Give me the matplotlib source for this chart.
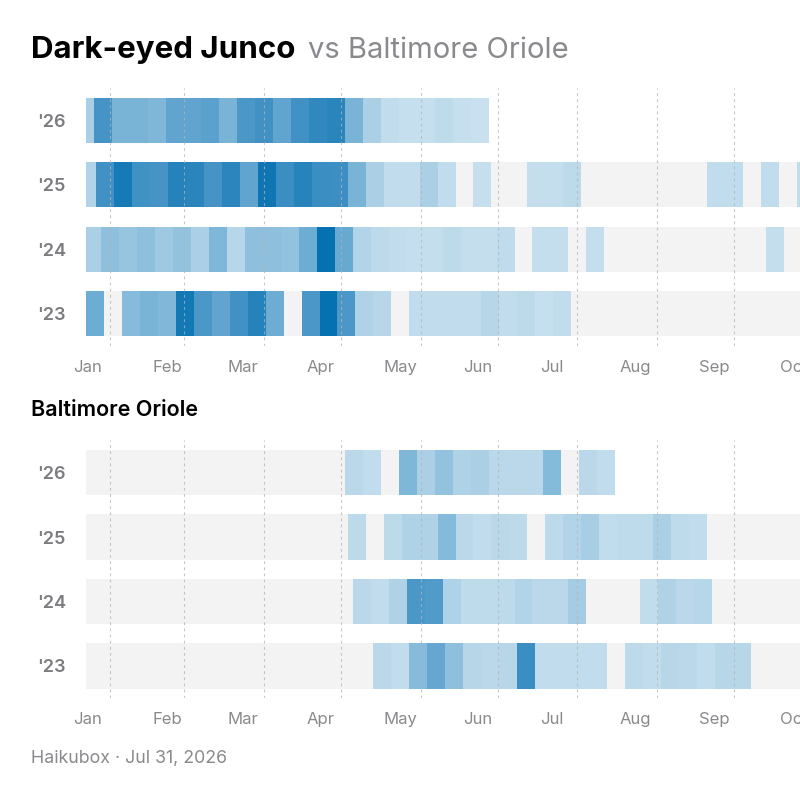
import datetime
import numpy as np
import matplotlib.pyplot as plt
from matplotlib.colors import LinearSegmentedColormap

plt.rcParams['font.family'] = ['Inter', 'DejaVu Sans']

FOCUS = 'Dark-eyed Junco'
OTHER = 'Baltimore Oriole'
SOURCE = 'Haikubox \u00b7 Jul 31, 2026'

years = [2026, 2025, 2024, 2023]
year_labels = ["'26", "'25", "'24", "'23"]

month_labels = ['Jan', 'Feb', 'Mar', 'Apr', 'May', 'Jun', 'Jul', 'Aug', 'Sep', 'Oct']
month_label_days = [0.4, 31.8, 61, 91.6, 122.4, 152.8, 181.6, 214, 245, 276]
guide_days = [9.4, 38.3, 69.4, 99.4, 130.4, 160.4, 191.3, 222.5, 252.5]

# weekly detection level (0-100), first bin = partial week up to the first Sunday
junco_26 = [30, 70, 50, 50, 48, 60, 60, 62, 50, 68, 72, 60, 72, 80, 83, 50, 30, 15, 12, 12, 17, 12, 10]
junco_25 = [25, 72, 92, 73, 70, 85, 83, 70, 82, 60, 95, 75, 84, 75, 74, 50, 30, 15, 15, 30, 15, 0, 12,
            0, 0, 13, 13, 18, 0, 0, 0, 0, 0, 0, 0, 15, 15, 0, 15, 0, 15]
junco_24 = [30, 42, 38, 42, 35, 40, 30, 48, 23, 42, 42, 40, 55, 100, 57, 25, 18, 15, 13, 13, 18, 13, 13,
            16, 0, 13, 13, 0, 13, 0, 0, 0, 0, 0, 0, 0, 0, 0, 13]
junco_23 = [55, 0, 45, 50, 47, 93, 68, 60, 72, 85, 55, 0, 68, 100, 68, 27, 22, 0, 15, 15, 15, 15, 22,
            15, 18, 12, 15]

oriole_26 = [0, 0, 0, 0, 0, 0, 0, 0, 0, 0, 0, 0, 0, 0, 0, 20, 15, 0, 48, 30, 40, 27, 30, 20, 20, 20,
             46, 0, 20, 15]
oriole_25 = [0, 0, 0, 0, 0, 0, 0, 0, 0, 0, 0, 0, 0, 0, 0, 18, 0, 18, 27, 27, 46, 20, 15, 20, 18, 0,
             18, 25, 32, 15, 17, 17, 30, 17, 15]
oriole_24 = [0, 0, 0, 0, 0, 0, 0, 0, 0, 0, 0, 0, 0, 0, 0, 20, 15, 27, 68, 66, 28, 17, 17, 18, 25, 20,
             20, 33, 0, 0, 0, 15, 27, 20, 23]
oriole_23 = [0, 0, 0, 0, 0, 0, 0, 0, 0, 0, 0, 0, 0, 0, 0, 0, 20, 15, 45, 58, 42, 22, 20, 22, 75, 15,
             15, 15, 15, 0, 18, 15, 22, 20, 15, 22, 22]

panels = [
    (FOCUS, [junco_26, junco_25, junco_24, junco_23]),
    (OTHER, [oriole_26, oriole_25, oriole_24, oriole_23]),
]

GREY = '#f3f3f3'
GUIDE = '#b4b4b4'
LABEL = '#8a8a8e'
cmap = LinearSegmentedColormap.from_list(
    'det', [(0, '#d7e9f3'), (0.3, '#abd0e6'), (0.5, '#7ab4d7'), (0.7, '#4694c6'), (1.0, '#0571b0')])


def week_edges(year):
    first_sunday = (6 - datetime.date(year, 1, 1).weekday()) % 7
    return np.unique(np.r_[0, np.arange(first_sunday, 380, 7)])


fig = plt.figure(figsize=(8, 8), dpi=100)
W, H = 800, 800
axes_top = [88, 440.25]
for (name, rows), top in zip(panels, axes_top):
    ax = fig.add_axes([86 / W, 1 - (top + 258) / H, 1 - 86 / W, 258 / H])
    for i, (year, vals) in enumerate(zip(years, rows)):
        edges = week_edges(year)
        v = np.array(vals, dtype=float)
        n = len(v)
        extent = edges[n] if year == 2026 else 366
        ax.barh(i, extent, left=0, height=0.7, color=GREY, linewidth=0, zorder=1)
        lefts = edges[:n]
        widths = edges[1:n + 1] - edges[:n]
        m = v > 0
        ax.barh(np.full(m.sum(), i), widths[m], left=lefts[m], height=0.7,
                color=cmap(v[m] / 100), linewidth=0, zorder=2)
    for d in guide_days:
        ax.axvline(d, color=GUIDE, lw=0.8, ls=(0, (2.5, 3)), alpha=0.75, zorder=3)
    ax.set_xlim(0, 714 / 2.566)
    ax.set_ylim(3.5, -0.5)
    ax.set_yticks(range(4))
    ax.set_yticklabels(year_labels, fontsize=13, color='#7c7c80', fontweight='semibold')
    ax.tick_params(axis='y', pad=14.5)
    ax.set_xticks(month_label_days)
    ax.set_xticklabels(month_labels, fontsize=12, color=LABEL)
    ax.tick_params(axis='both', length=0)
    ax.tick_params(axis='x', pad=10)
    for s in ax.spines.values():
        s.set_visible(False)

t1 = fig.text(31 / W, 1 - 50 / H, FOCUS, fontsize=22.5, fontweight='bold', color='black', va='center')
fig.canvas.draw()
bb = t1.get_window_extent()
fig.text((bb.x1 + 13) / W, 1 - 50 / H, 'vs ' + OTHER, fontsize=21, color=LABEL, va='center')
fig.text(31 / W, 1 - 410 / H, OTHER, fontsize=15.5, fontweight='semibold', color='black', va='center')
fig.text(31 / W, 1 - 759 / H, SOURCE, fontsize=12.8, color=LABEL, va='center')

fig.savefig('out.png', dpi=100)
